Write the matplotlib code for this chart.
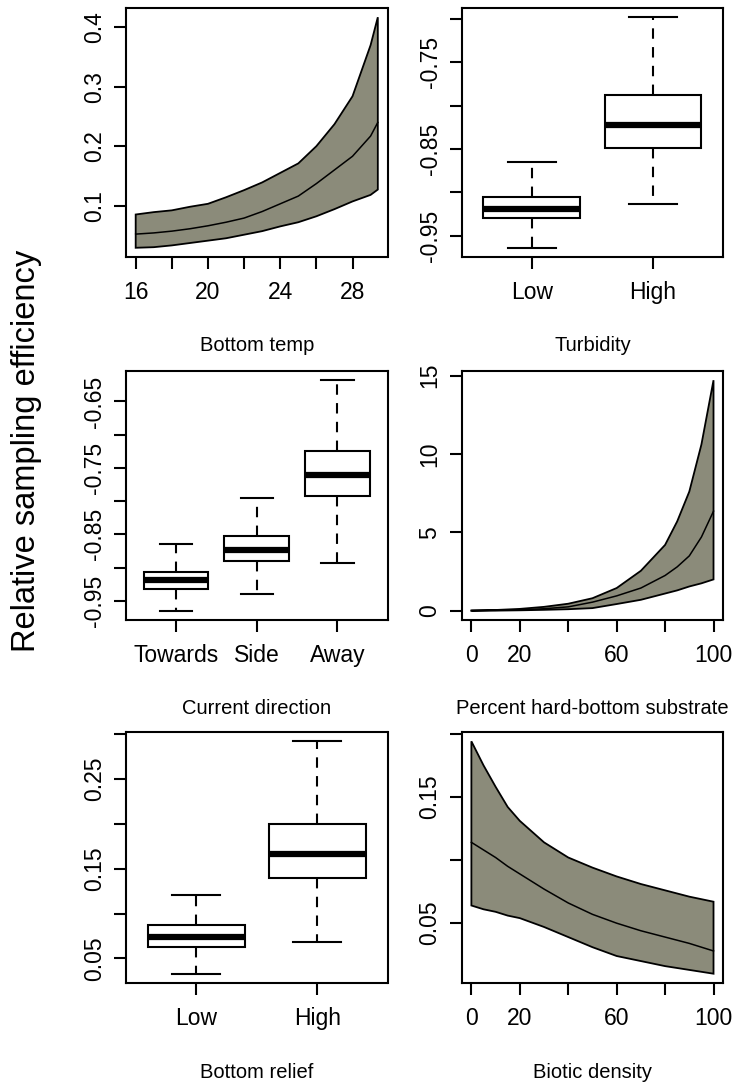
import matplotlib
matplotlib.use("Agg")
import matplotlib.pyplot as plt
import numpy as np

plt.rcParams['font.family'] = ['Liberation Sans', 'DejaVu Sans']

FILL = '#8b8b7a'

# Bottom temp (fitted curve with band)
temp_x = [16, 17, 18, 19, 20, 21, 22, 23, 24, 25, 26, 27, 28, 29, 29.4]
temp_upper = [0.085, 0.089, 0.092, 0.098, 0.103, 0.114, 0.126, 0.139, 0.155, 0.171, 0.200, 0.237, 0.284, 0.370, 0.417]
temp_mid = [0.052, 0.054, 0.057, 0.061, 0.066, 0.072, 0.079, 0.090, 0.103, 0.116, 0.137, 0.160, 0.183, 0.217, 0.240]
temp_lower = [0.029, 0.030, 0.033, 0.037, 0.041, 0.045, 0.051, 0.057, 0.065, 0.072, 0.082, 0.094, 0.107, 0.118, 0.127]
temp_xticks = [16, 18, 20, 22, 24, 26, 28]
temp_xticklabels = ['16', '', '20', '', '24', '', '28']
temp_yticks = [0.1, 0.2, 0.3, 0.4]
temp_yticklabels = ['0.1', '0.2', '0.3', '0.4']

# Turbidity (boxplot)
turb_groups = ['Low', 'High']
turb_whislo = [-0.964, -0.914]
turb_q1 = [-0.930, -0.849]
turb_med = [-0.919, -0.822]
turb_q3 = [-0.905, -0.788]
turb_whishi = [-0.865, -0.698]
turb_yticks = [-0.95, -0.90, -0.85, -0.80, -0.75, -0.70]
turb_yticklabels = ['-0.95', '', '-0.85', '', '-0.75', '']

# Current direction (boxplot)
curr_groups = ['Towards', 'Side', 'Away']
curr_whislo = [-0.965, -0.939, -0.893]
curr_q1 = [-0.932, -0.890, -0.793]
curr_med = [-0.918, -0.873, -0.761]
curr_q3 = [-0.906, -0.853, -0.724]
curr_whishi = [-0.865, -0.796, -0.618]
curr_yticks = [-0.95, -0.90, -0.85, -0.80, -0.75, -0.70, -0.65]
curr_yticklabels = ['-0.95', '', '-0.85', '', '-0.75', '', '-0.65']

# Percent hard-bottom substrate (fitted curve with band)
hard_x = [0, 10, 20, 30, 40, 50, 60, 70, 80, 85, 90, 95, 100]
hard_upper = [0.02, 0.05, 0.12, 0.25, 0.45, 0.80, 1.45, 2.55, 4.2, 5.7, 7.6, 10.6, 14.7]
hard_mid = [0.01, 0.03, 0.06, 0.13, 0.25, 0.55, 0.95, 1.45, 2.25, 2.8, 3.5, 4.7, 6.35]
hard_lower = [0.0, 0.01, 0.03, 0.06, 0.10, 0.17, 0.43, 0.70, 1.1, 1.3, 1.55, 1.75, 2.0]
hard_xticks = [0, 20, 40, 60, 80, 100]
hard_xticklabels = ['0', '20', '', '60', '', '100']
hard_yticks = [0, 5, 10, 15]
hard_yticklabels = ['0', '5', '10', '15']

# Bottom relief (boxplot)
relief_groups = ['Low', 'High']
relief_whislo = [0.033, 0.068]
relief_q1 = [0.063, 0.140]
relief_med = [0.074, 0.166]
relief_q3 = [0.087, 0.200]
relief_whishi = [0.121, 0.292]
relief_yticks = [0.05, 0.10, 0.15, 0.20, 0.25, 0.30]
relief_yticklabels = ['0.05', '', '0.15', '', '0.25', '']

# Biotic density (fitted curve with band)
biotic_x = [0, 5, 10, 15, 20, 30, 40, 50, 60, 70, 80, 90, 100]
biotic_upper = [0.194, 0.175, 0.158, 0.142, 0.131, 0.114, 0.102, 0.094, 0.087, 0.081, 0.076, 0.071, 0.067]
biotic_mid = [0.114, 0.108, 0.102, 0.095, 0.089, 0.077, 0.066, 0.057, 0.050, 0.044, 0.039, 0.034, 0.028]
biotic_lower = [0.064, 0.061, 0.059, 0.056, 0.054, 0.047, 0.039, 0.031, 0.024, 0.020, 0.016, 0.013, 0.010]
biotic_xticks = [0, 20, 40, 60, 80, 100]
biotic_xticklabels = ['0', '20', '', '60', '', '100']
biotic_yticks = [0.05, 0.10, 0.15, 0.20]
biotic_yticklabels = ['0.05', '', '0.15', '']

TICK_FS = 16.5
LAB_FS = 14.5
LW = 1.5


def style_axes(ax, xlabel, yticks, yticklabels, xticks=None, xticklabels=None):
    for s in ax.spines.values():
        s.set_linewidth(LW)
    ax.set_xlim(ax.get_xlim())
    ax.set_ylim(ax.get_ylim())
    if xticks is not None:
        ax.set_xticks(xticks)
        ax.set_xticklabels(xticklabels)
    ax.set_yticks(yticks)
    ax.set_yticklabels(yticklabels, rotation=90, va='center')
    ax.tick_params(direction='out', length=8.5, width=LW, labelsize=TICK_FS,
                   top=False, right=False)
    ax.tick_params(axis='x', pad=9)
    ax.tick_params(axis='y', pad=6)
    ax.set_xlabel(xlabel, fontsize=LAB_FS)
    ax.xaxis.set_label_coords(0.5, -0.355)
    ax.xaxis.label.set_va('center')


def band_panel(ax, x, lower, mid, upper):
    x = np.asarray(x)
    ax.fill(np.r_[x, x[::-1]], np.r_[upper, lower[::-1]],
            facecolor=FILL, edgecolor='black', lw=1.3)
    ax.plot(x, mid, color='black', lw=1.1)
    ax.margins(0.04)


def box_panel(ax, groups, whislo, q1, med, q3, whishi):
    stats = []
    for i in range(len(groups)):
        stats.append(dict(label=groups[i], whislo=whislo[i], q1=q1[i],
                          med=med[i], q3=q3[i], whishi=whishi[i]))
    n = len(groups)
    pos = np.arange(1, n + 1)
    ax.bxp(stats, positions=pos, widths=0.8, capwidths=0.4, showfliers=False,
           patch_artist=True,
           boxprops=dict(facecolor='white', edgecolor='black', lw=LW),
           medianprops=dict(color='black', lw=4.5, solid_capstyle='butt'),
           whiskerprops=dict(color='black', lw=LW, linestyle=(0, (5, 4))),
           capprops=dict(color='black', lw=LW))
    ax.margins(y=0.04)
    ax.set_xlim(0.5 - 0.04 * n, n + 0.5 + 0.04 * n)
    return pos


fig = plt.figure(figsize=(7.35, 10.86), dpi=100)

left_x, right_x, w = 126 / 735, 461.7 / 735, 261.5 / 735
rows = [(1 - 257 / 1086, 249 / 1086), (1 - 620 / 1086, 249 / 1086), (1 - 983 / 1086, 251 / 1086)]

ax1 = fig.add_axes([left_x, rows[0][0], w, rows[0][1]])
band_panel(ax1, temp_x, temp_lower, temp_mid, temp_upper)
style_axes(ax1, 'Bottom temp', temp_yticks, temp_yticklabels, temp_xticks, temp_xticklabels)

ax2 = fig.add_axes([right_x, rows[0][0], w, rows[0][1]])
p = box_panel(ax2, turb_groups, turb_whislo, turb_q1, turb_med, turb_q3, turb_whishi)
style_axes(ax2, 'Turbidity', turb_yticks, turb_yticklabels, p, turb_groups)

ax3 = fig.add_axes([left_x, rows[1][0], w, rows[1][1]])
p = box_panel(ax3, curr_groups, curr_whislo, curr_q1, curr_med, curr_q3, curr_whishi)
style_axes(ax3, 'Current direction', curr_yticks, curr_yticklabels, p, curr_groups)

ax4 = fig.add_axes([right_x, rows[1][0], w, rows[1][1]])
band_panel(ax4, hard_x, hard_lower, hard_mid, hard_upper)
style_axes(ax4, 'Percent hard-bottom substrate', hard_yticks, hard_yticklabels, hard_xticks, hard_xticklabels)

ax5 = fig.add_axes([left_x, rows[2][0], w, rows[2][1]])
p = box_panel(ax5, relief_groups, relief_whislo, relief_q1, relief_med, relief_q3, relief_whishi)
style_axes(ax5, 'Bottom relief', relief_yticks, relief_yticklabels, p, relief_groups)

ax6 = fig.add_axes([right_x, rows[2][0], w, rows[2][1]])
band_panel(ax6, biotic_x, biotic_lower, biotic_mid, biotic_upper)
style_axes(ax6, 'Biotic density', biotic_yticks, biotic_yticklabels, biotic_xticks, biotic_xticklabels)

fig.text(27 / 735, 1 - 451 / 1086, 'Relative sampling efficiency', rotation=90,
         va='center', ha='center', fontsize=23.5)

fig.savefig('out.png', dpi=100)
